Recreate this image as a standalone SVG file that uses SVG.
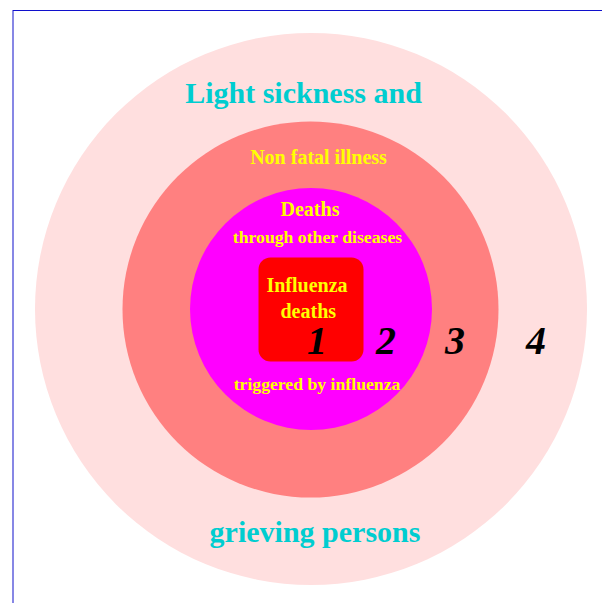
<svg xmlns="http://www.w3.org/2000/svg" width="602" height="603" viewBox="0 0 602 603">
<style>
text{font-family:"Liberation Serif","Times New Roman",serif;font-weight:bold;text-anchor:middle}
.cy{fill:#00cdd0;font-size:30px}
.yl{fill:#ffff00}
.num{fill:#000;font-size:40px;font-style:italic;text-anchor:start}
</style>
<rect x="13" y="10.5" width="620" height="620" fill="#fff" stroke="#1010cc" stroke-width="1"/>
<g id="ring4"><circle cx="311" cy="309" r="276" fill="#ffdfdf"/></g>
<g id="ring3"><circle cx="310.5" cy="309.5" r="188" fill="#ff8080"/></g>
<g id="ring2"><circle cx="311" cy="309" r="121" fill="#ff00ff"/></g>
<g id="core"><rect x="258.5" y="257.5" width="105" height="104" rx="12" fill="#ff0000"/></g>
<g id="labels">
<text class="cy" x="303.5" y="103">Light sickness and</text>
<text class="cy" x="315" y="542">grieving persons</text>
<text class="yl" x="318.5" y="163.5" style="font-size:20px">Non fatal illness</text>
<text class="yl" x="310" y="215.5" style="font-size:20px">Deaths</text>
<text class="yl" x="317.5" y="243" style="font-size:17.7px">through other diseases</text>
<text class="yl" x="307" y="291.5" style="font-size:20px">Influenza</text>
<text class="yl" x="308.3" y="317.5" style="font-size:20px">deaths</text>
<text class="yl" x="317" y="390" style="font-size:17.7px">triggered by influenza</text>
</g>
<g id="numbers">
<text class="num" x="307" y="353.5">1</text>
<text class="num" x="376" y="353.5">2</text>
<text class="num" x="445" y="353.5">3</text>
<text class="num" x="526" y="353.5">4</text>
</g>
</svg>
